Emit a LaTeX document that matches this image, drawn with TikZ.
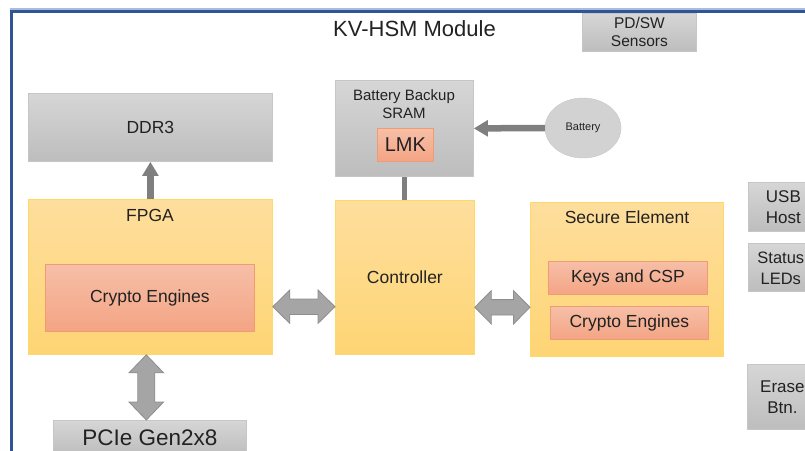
\documentclass[tikz,border=0pt]{standalone}
\usepackage{fontspec}
\setmainfont{Liberation Sans}
\usetikzlibrary{arrows.meta,calc,shapes.geometric}
\definecolor{frameblue}{HTML}{2F5597}
\definecolor{framelight}{HTML}{A9BCDF}
\definecolor{grayTop}{HTML}{D6D6D6}
\definecolor{grayBot}{HTML}{BDBDBD}
\definecolor{grayEdge}{HTML}{C6C6C6}
\definecolor{yelTop}{HTML}{FEDE9D}
\definecolor{yelBot}{HTML}{FED574}
\definecolor{yelEdge}{HTML}{FFD966}
\definecolor{salTop}{HTML}{F6BFA7}
\definecolor{salBot}{HTML}{F4A484}
\definecolor{salEdge}{HTML}{F19B74}
\definecolor{arrFill}{HTML}{A5A5A5}
\definecolor{arrEdge}{HTML}{8E8E8E}
\definecolor{lineGray}{HTML}{7F7F7F}
\definecolor{txt}{HTML}{222222}
\newcommand\hdblarrow[4]{% start, end, head length, head half
  \draw[dbl] let \p1=(#1), \p2=(#2) in
    (\x1,\y1) -- ({\x1+#3pt},{\y1+#4pt}) -- ({\x1+#3pt},{\y1+7.7pt})
    -- ({\x2-#3pt},{\y1+7.7pt}) -- ({\x2-#3pt},{\y1+#4pt}) -- (\x2,\y1)
    -- ({\x2-#3pt},{\y1-#4pt}) -- ({\x2-#3pt},{\y1-7.7pt})
    -- ({\x1+#3pt},{\y1-7.7pt}) -- ({\x1+#3pt},{\y1-#4pt}) -- cycle;}
\newcommand\vdblarrow[4]{%
  \draw[dbl] let \p1=(#1), \p2=(#2) in
    (\x1,\y1) -- ({\x1+#4pt},{\y1-#3pt}) -- ({\x1+8.5pt},{\y1-#3pt})
    -- ({\x1+8.5pt},{\y2+#3pt}) -- ({\x1+#4pt},{\y2+#3pt}) -- (\x1,\y2)
    -- ({\x1-#4pt},{\y2+#3pt}) -- ({\x1-8.5pt},{\y2+#3pt})
    -- ({\x1-8.5pt},{\y1-#3pt}) -- ({\x1-#4pt},{\y1-#3pt}) -- cycle;}
\begin{document}
\begin{tikzpicture}[x=1pt,y=-1pt,
  every node/.style={text=txt, inner sep=0pt, align=center},
  box/.style={rectangle, anchor=north west, line width=0.8pt},
  graybox/.style={box, draw=grayEdge, top color=grayTop, bottom color=grayBot},
  yelbox/.style={box, draw=yelEdge, top color=yelTop, bottom color=yelBot},
  salbox/.style={box, draw=salEdge, top color=salTop, bottom color=salBot},
  fmain/.style={font=\fontsize{17.5}{21}\selectfont},
  fside/.style={font=\fontsize{17}{21}\selectfont},
  dbl/.style={fill=arrFill, draw=arrEdge, line width=0.8pt},
  sarrow/.style={draw=lineGray, line width=6.5pt, -{Triangle[length=14pt, width=15.5pt]}},
  plainline/.style={draw=lineGray, line width=5pt}
]
\path[use as bounding box] (0,0) rectangle (805,450);
\clip (0,0) rectangle (805,450);
\fill[white] (0,0) rectangle (805,450);

% title
\node[font=\fontsize{22}{26}\selectfont] (title) at (414.5,29) {KV-HSM Module};

% boxes
\node[graybox, minimum width=114pt, minimum height=38pt, font=\fontsize{15.5}{18}\selectfont] (pdsw) at (582,13) {PD/SW\\Sensors};
\node[graybox, minimum width=244pt, minimum height=68pt, fmain] (ddr) at (28,93) {DDR3};
\node[yelbox, minimum width=244pt, minimum height=155pt] (fpga) at (28,199) {};
\node[fmain] (fpgalbl) at (150,215) {FPGA};
\node[salbox, minimum width=209pt, minimum height=67pt, fmain] (fpgace) at (45,264) {Crypto Engines};
\node[graybox, minimum width=193pt, minimum height=35pt, font=\fontsize{22.5}{26}\selectfont] (pcie) at (53,420) {PCIe Gen2x8};

\node[graybox, minimum width=138pt, minimum height=96pt] (sram) at (335,80) {};
\node[font=\fontsize{15}{17.7}\selectfont] (sramlbl) at (404,103.8) {Battery Backup\\SRAM};
\node[salbox, minimum width=56pt, minimum height=33pt, font=\fontsize{20}{24}\selectfont] (lmk) at (377,128) {LMK};
\node[ellipse, draw=grayEdge, fill=grayTop!85!grayBot, minimum width=76pt, minimum height=60pt, font=\fontsize{11}{13}\selectfont] (battery) at (583,128) {Battery};

\node[yelbox, minimum width=139pt, minimum height=154pt, fmain] (ctrl) at (335,200) {Controller};

\node[yelbox, minimum width=193pt, minimum height=154pt] (se) at (530,202) {};
\node[fmain] (selbl) at (627,217) {Secure Element};
\node[salbox, minimum width=159pt, minimum height=33pt, fmain] (keys) at (548,261) {Keys and CSP};
\node[salbox, minimum width=158pt, minimum height=33pt, fmain] (sece) at (550,306) {Crypto Engines};

\node[graybox, minimum width=70pt, minimum height=49pt, fside] (usb) at (748,182) {USB\\Host};
\node[graybox, minimum width=70pt, minimum height=48pt] (status) at (748,243) {};
\node[font=\fontsize{16.5}{21}\selectfont] (statuslbl) at (780.8,268) {Status\\LEDs};
\node[graybox, minimum width=70pt, minimum height=65pt, fside] (erase) at (747,364) {Erase\\Btn.};

% connectors
\coordinate (ya) at (0,306.7);
\coordinate (yb) at (0,307.3);
\coordinate (xv) at (146.3,0);
\draw[sarrow] (fpga.north) -- (ddr.south);
\draw[sarrow] (battery.west) -- (sram.east);
\draw[plainline] (sram.south) -- (sram.south |- ctrl.north);
\hdblarrow{fpga.east |- ya}{ctrl.west |- ya}{17}{16.7}
\hdblarrow{ctrl.east |- yb}{se.west |- yb}{16.5}{16.7}
\vdblarrow{xv |- fpga.south}{xv |- pcie.north}{18}{17.3}

% frame
\draw[framelight, line width=1.5pt] (10,9.2) -- (810,9.2);
\draw[frameblue, line width=3pt] (11.7,460) -- (11.7,11.7) -- (810,11.7);
\end{tikzpicture}
\end{document}
